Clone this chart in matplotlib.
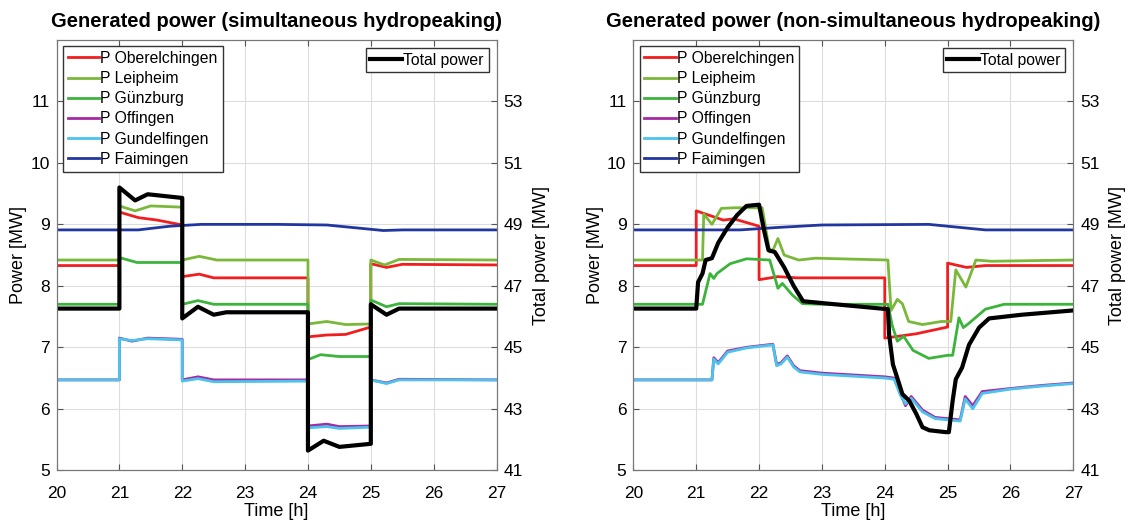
import numpy as np
import matplotlib
matplotlib.use('Agg')
import matplotlib.pyplot as plt

plt.rcParams['font.family'] = ['Liberation Sans', 'DejaVu Sans']

# ---- data: simultaneous hydropeaking (left) ----
ober_sim_t = [20, 21, 21, 21.3, 21.6, 22, 22, 22.27, 22.5, 24, 24, 24.3, 24.6, 25, 25, 25.25, 25.5, 27]
ober_sim = [8.33, 8.33, 9.2, 9.11, 9.07, 8.99, 8.15, 8.19, 8.13, 8.13, 7.17, 7.2, 7.21, 7.33, 8.36, 8.3, 8.35, 8.34]

leip_sim_t = [20, 21, 21, 21.25, 21.5, 22, 22, 22.27, 22.55, 24, 24, 24.3, 24.6, 25, 25, 25.22, 25.45, 27]
leip_sim = [8.42, 8.42, 9.3, 9.22, 9.3, 9.28, 8.42, 8.48, 8.42, 8.42, 7.38, 7.42, 7.37, 7.38, 8.42, 8.34, 8.43, 8.42]

guen_sim_t = [20, 21, 21, 21.28, 22, 22, 22.25, 22.5, 24, 24, 24.2, 24.5, 25, 25, 25.25, 25.45, 27]
guen_sim = [7.7, 7.7, 8.46, 8.38, 8.38, 7.7, 7.76, 7.7, 7.7, 6.8, 6.88, 6.85, 6.85, 7.77, 7.66, 7.71, 7.7]

offi_sim_t = [20, 21, 21, 21.2, 21.45, 22, 22, 22.25, 22.5, 24, 24, 24.3, 24.5, 25, 25, 25.25, 25.45, 27]
offi_sim = [6.47, 6.47, 7.15, 7.1, 7.15, 7.13, 6.47, 6.52, 6.47, 6.47, 5.72, 5.75, 5.71, 5.72, 6.47, 6.42, 6.48, 6.47]
gund_sim = [6.47, 6.47, 7.14, 7.11, 7.14, 7.12, 6.45, 6.49, 6.44, 6.45, 5.69, 5.71, 5.68, 5.7, 6.47, 6.41, 6.47, 6.47]

faim_sim_t = [20, 21.3, 21.8, 22.3, 23.5, 24.3, 25.2, 25.5, 27]
faim_sim = [8.91, 8.91, 8.97, 9.0, 9.0, 8.99, 8.9, 8.91, 8.91]

total_sim_t = [20, 21, 21, 21.25, 21.45, 22, 22, 22.25, 22.5, 22.7, 24, 24, 24.25, 24.5, 25, 25, 25.25, 25.45, 27]
total_sim = [46.26, 46.26, 50.2, 49.78, 49.98, 49.86, 45.94, 46.32, 46.06, 46.14, 46.14,
             41.64, 41.96, 41.76, 41.86, 46.4, 46.06, 46.26, 46.26]

# ---- data: non-simultaneous hydropeaking (right) ----
ober_non_t = [20, 21.0, 21.0, 21.43, 21.6, 22.0, 22.0, 22.3, 22.6, 24.0, 24.0, 24.5, 25.0, 25.0, 25.3, 25.6, 27]
ober_non = [8.33, 8.33, 9.22, 9.07, 9.09, 8.97, 8.1, 8.15, 8.13, 8.13, 7.15, 7.22, 7.33, 8.37, 8.3, 8.33, 8.33]

leip_non_t = [20, 21.1, 21.12, 21.25, 21.4, 21.6, 22.05, 22.17, 22.23, 22.3, 22.4, 22.63, 22.9, 24.05,
              24.1, 24.2, 24.28, 24.38, 24.6, 24.9, 25.05, 25.13, 25.29, 25.45, 25.7, 27]
leip_non = [8.42, 8.42, 9.17, 9.0, 9.26, 9.27, 9.27, 8.55, 8.6, 8.77, 8.5, 8.42, 8.45, 8.42,
            7.6, 7.78, 7.71, 7.42, 7.37, 7.42, 7.42, 8.26, 7.98, 8.42, 8.4, 8.42]

guen_non_t = [20, 21.1, 21.22, 21.28, 21.33, 21.54, 21.8, 22.17, 22.3, 22.37, 22.53, 22.69, 23, 24.05,
              24.12, 24.2, 24.3, 24.45, 24.7, 25.0, 25.08, 25.18, 25.25, 25.35, 25.6, 25.9, 27]
guen_non = [7.7, 7.7, 8.2, 8.12, 8.2, 8.36, 8.44, 8.42, 7.96, 8.04, 7.85, 7.71, 7.7, 7.7,
            7.35, 7.1, 7.18, 6.95, 6.82, 6.87, 6.87, 7.48, 7.32, 7.4, 7.62, 7.7, 7.7]

offi_non_t = [20, 21.25, 21.28, 21.35, 21.5, 21.8, 22.22, 22.28, 22.35, 22.45, 22.55, 22.65, 23, 24,
              24.15, 24.25, 24.33, 24.42, 24.6, 24.8, 25.0, 25.2, 25.28, 25.4, 25.55, 26, 26.5, 27]
offi_non = [6.47, 6.47, 6.83, 6.75, 6.94, 7.0, 7.05, 6.72, 6.75, 6.86, 6.7, 6.62, 6.58, 6.52,
            6.5, 6.25, 6.05, 6.2, 5.98, 5.86, 5.84, 5.82, 6.2, 6.05, 6.28, 6.33, 6.38, 6.42]
gund_non = [6.47, 6.47, 6.81, 6.73, 6.92, 6.99, 7.04, 6.7, 6.73, 6.84, 6.68, 6.6, 6.56, 6.5,
            6.48, 6.22, 6.08, 6.17, 5.95, 5.84, 5.82, 5.8, 6.16, 6.0, 6.25, 6.32, 6.37, 6.41]

faim_non_t = [20, 21.7, 22.3, 23.0, 24.7, 25.2, 25.6, 27]
faim_non = [8.91, 8.91, 8.95, 8.99, 9.0, 8.95, 8.91, 8.91]

total_non_t = [20, 21.0, 21.03, 21.1, 21.15, 21.25, 21.35, 21.5, 21.65, 21.8, 22.0, 22.08, 22.15, 22.25,
               22.4, 22.55, 22.7, 23.0, 24.05, 24.07, 24.13, 24.2, 24.28, 24.39, 24.5, 24.6, 24.71,
               24.97, 25.02, 25.08, 25.13, 25.23, 25.34, 25.5, 25.66, 26.18, 27]
total_non = [46.26, 46.26, 47.12, 47.4, 47.84, 47.9, 48.4, 48.9, 49.3, 49.6, 49.64, 48.8, 48.16, 48.1,
             47.6, 47.0, 46.5, 46.44, 46.24, 45.4, 44.44, 44.0, 43.48, 43.26, 42.84, 42.4, 42.3,
             42.24, 42.24, 43.26, 43.96, 44.34, 45.08, 45.64, 45.94, 46.06, 46.2]

names = ['P Oberelchingen', 'P Leipheim', 'P Günzburg', 'P Offingen', 'P Gundelfingen', 'P Faimingen']
colors = ['#f01e1e', '#7ab83a', '#3cb43c', '#a52aa5', '#4cc3eb', '#2236a0']
titles = ['Generated power (simultaneous hydropeaking)',
          'Generated power (non-simultaneous hydropeaking)']

panels = [
    [(ober_sim_t, ober_sim), (leip_sim_t, leip_sim), (guen_sim_t, guen_sim),
     (offi_sim_t, offi_sim), (offi_sim_t, gund_sim), (faim_sim_t, faim_sim), (total_sim_t, total_sim)],
    [(ober_non_t, ober_non), (leip_non_t, leip_non), (guen_non_t, guen_non),
     (offi_non_t, offi_non), (offi_non_t, gund_non), (faim_non_t, faim_non), (total_non_t, total_non)],
]

fig = plt.figure(figsize=(11.31, 5.26), dpi=100)
lefts = [0.050, 0.560]
for i, series in enumerate(panels):
    ax = fig.add_axes([lefts[i], 0.106, 0.389, 0.818])
    ax2 = ax.twinx()
    lines = []
    for (t, v), name, c in zip(series[:6], names, colors):
        ln, = ax.plot(t, v, color=c, lw=2, label=name)
        lines.append(ln)
    t, v = series[6]
    ln_tot, = ax2.plot(t, v, color='black', lw=3, label='Total power')

    ax.set_xlim(20, 27)
    ax.set_ylim(5, 12)
    ax2.set_ylim(41, 55)
    ax.set_xticks(range(20, 28))
    ax.set_yticks(range(5, 12))
    ax2.set_yticks(range(41, 54, 2))
    ax.grid(True, color='#dddddd', lw=0.8)
    ax.set_axisbelow(True)
    for a in (ax, ax2):
        a.tick_params(direction='in', labelsize=12.5, length=4, color='#555555')
        for s in a.spines.values():
            s.set_color('#777777')
    ax.tick_params(axis='x', top=True, pad=11)
    ax.tick_params(axis='y', pad=5)
    ax2.tick_params(axis='y', pad=5)
    ax.set_xlabel('Time [h]', fontsize=13, labelpad=2)
    ax.set_ylabel('Power [MW]', fontsize=13, labelpad=2)
    ax2.set_ylabel('Total power [MW]', fontsize=13, labelpad=7)
    ax.set_title(titles[i], fontsize=14.5, fontweight='bold', pad=9)

    leg_kw = dict(fontsize=11.3, fancybox=False, edgecolor='#333333', framealpha=1,
                  handlelength=2.0, handletextpad=0.1, borderpad=0.3)
    leg1 = ax2.legend(handles=lines, loc='upper left', labelspacing=0.33,
                      borderaxespad=0.4, **leg_kw)
    ax2.add_artist(leg1)
    ax2.legend(handles=[ln_tot], loc='upper right', borderaxespad=0.5, **leg_kw)

fig.savefig('out.png', dpi=100)
